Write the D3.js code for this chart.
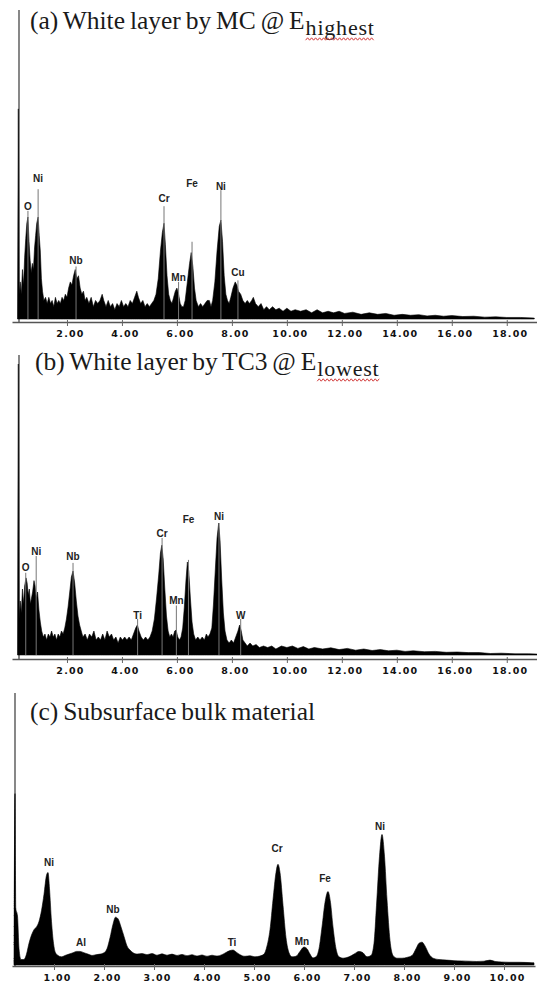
<!DOCTYPE html>
<html>
<head>
<meta charset="utf-8">
<script src="https://cdn.jsdelivr.net/npm/d3@7"></script>
<style>
  body { margin: 0; background: #fff; }
  svg { display: block; }
</style>
</head>
<body>
<div id="chart"></div>
<script>
// EDS spectra, pairs of [energy keV, counts as % of the axis height]
let specA = [
  [0.20,0],[0.23,68],[0.26,8],[0.30,12],[0.34,8],[0.38,16],[0.42,11],[0.46,20],[0.50,26],[0.54,31],[0.58,33],[0.62,25],
  [0.66,19],[0.70,15],[0.74,18],[0.78,16],[0.82,23],[0.86,27],[0.90,31],[0.95,33],[0.99,27],[1.03,22],[1.07,13],[1.11,9],
  [1.16,6],[1.22,7],[1.28,5],[1.34,7],[1.40,5],[1.46,6],[1.52,4],[1.58,7],[1.64,5],[1.70,6],[1.76,5],[1.82,7],[1.88,6],
  [1.94,8],[2.00,7],[2.06,10],[2.12,12],[2.18,11],[2.24,14],[2.30,16],[2.36,13],[2.42,14],[2.48,10],[2.54,8],[2.60,9],
  [2.66,6],[2.72,7],[2.80,5],[2.88,7],[2.96,4],[3.04,6],[3.12,5],[3.20,6],[3.28,8],[3.34,6],[3.42,4],[3.50,6],[3.58,4],
  [3.66,5],[3.74,3],[3.82,5],[3.90,4],[3.98,6],[4.06,4],[4.14,5],[4.22,4],[4.30,6],[4.38,5],[4.46,7],[4.54,9],[4.60,7],
  [4.68,5],[4.76,6],[4.84,4],[4.92,5],[5.00,4],[5.08,5],[5.16,6],[5.24,8],[5.32,13],[5.40,22],[5.47,28],[5.53,31],[5.58,24],
  [5.64,14],[5.70,8],[5.76,6],[5.82,5],[5.88,7],[5.94,9],[6.00,10],[6.06,8],[6.12,5],[6.18,4],[6.24,4],[6.30,6],[6.38,12],
  [6.46,18],[6.52,21.5],[6.58,17],[6.64,10],[6.70,6],[6.78,4],[6.86,5],[6.94,4],[7.02,5],[7.10,6],[7.18,6],[7.24,4],[7.30,6],
  [7.38,12],[7.46,22],[7.54,30],[7.60,32],[7.66,25],[7.72,14],[7.78,8],[7.84,6],[7.90,5],[7.96,7],[8.04,10],[8.12,12],
  [8.18,11],[8.24,9],[8.32,8],[8.40,6],[8.48,5],[8.56,6],[8.64,5],[8.72,6],[8.78,7],[8.86,5],[8.96,4],[9.06,5],[9.16,3],
  [9.26,4],[9.36,3],[9.48,4],[9.60,3],[9.72,3.5],[9.86,2.5],[10.0,3.5],[10.15,2.5],[10.3,3],[10.5,2.5],[10.7,3],[10.9,2],
  [11.1,3],[11.3,2],[11.5,2.5],[11.7,2],[11.9,2.5],[12.1,1.8],[12.4,2.2],[12.7,1.5],[13.0,2],[13.3,1.5],[13.6,1.8],
  [13.9,1.2],[14.2,1.5],[14.5,1.2],[14.8,1.4],[15.1,1],[15.4,1.2],[15.7,0.9],[16.0,1.1],[16.4,0.8],[16.8,0.9],[17.2,0.6],
  [17.6,0.7],[18.0,0.5],[18.5,0.5],[19.0,0.3]
];

let specB = [
  [0.20,0],[0.23,97],[0.26,12],[0.30,18],[0.34,14],[0.38,22],[0.42,17],[0.46,23],[0.51,25.7],[0.55,24],[0.59,20],[0.63,22],
  [0.67,17],[0.71,19],[0.75,21],[0.80,24.8],[0.84,23],[0.88,19],[0.93,21],[0.98,15],[1.03,11],[1.08,8],[1.14,6],[1.20,7],
  [1.26,5],[1.32,7],[1.38,6],[1.44,8],[1.50,6],[1.56,7],[1.62,5],[1.68,7],[1.74,6],[1.80,8],[1.86,7],[1.92,9],[1.98,12],
  [2.04,16],[2.10,21],[2.16,26],[2.22,28],[2.28,24],[2.34,18],[2.40,13],[2.46,10],[2.52,8],[2.58,6],[2.66,7],[2.74,5],
  [2.82,7],[2.90,6],[2.98,8],[3.06,5],[3.14,6],[3.22,5],[3.30,7],[3.38,5],[3.46,8],[3.54,6],[3.62,7],[3.70,5],[3.78,6],
  [3.86,4],[3.94,6],[4.02,5],[4.10,6],[4.18,5],[4.26,6],[4.34,5],[4.42,7],[4.50,9],[4.56,10],[4.62,8],[4.70,6],[4.78,5],
  [4.86,6],[4.94,5],[5.02,6],[5.10,8],[5.18,12],[5.26,19],[5.34,27],[5.40,34],[5.45,36.6],[5.50,32],[5.56,22],[5.62,13],
  [5.68,8],[5.74,6],[5.80,7],[5.86,6],[5.92,8],[5.97,8.3],[6.03,6],[6.09,5],[6.15,6],[6.21,9],[6.27,16],[6.33,25],[6.38,31],
  [6.43,28],[6.49,19],[6.55,11],[6.61,7],[6.68,5],[6.76,6],[6.84,5],[6.92,6],[7.00,5],[7.07,7],[7.13,6],[7.20,7],[7.27,9],
  [7.33,17],[7.40,29],[7.46,39],[7.52,44],[7.57,38],[7.63,25],[7.69,14],[7.75,8],[7.82,5],[7.90,4],[7.98,5],[8.06,4],
  [8.14,6],[8.22,8],[8.28,10],[8.34,8],[8.40,5],[8.48,4],[8.56,3],[8.66,4],[8.76,3],[8.88,3.5],[9.00,2.5],[9.15,3],[9.30,2.5],
  [9.45,3],[9.60,2],[9.80,3],[10.0,2.5],[10.2,3],[10.4,2.2],[10.6,2.8],[10.8,2],[11.0,2.5],[11.3,2],[11.6,2.4],[11.9,1.8],
  [12.2,2.2],[12.5,1.6],[12.8,2],[13.1,1.5],[13.4,1.8],[13.7,1.4],[14.0,1.6],[14.3,1.2],[14.6,1.4],[15.0,1.1],[15.4,1.2],
  [15.8,0.9],[16.2,1],[16.6,0.8],[17.0,0.8],[17.4,0.5],[17.8,0.6],[18.3,0.4],[18.8,0.4],[19.1,0.3]
];

let specC = [
  [0.20,0],[0.22,63],[0.235,21],[0.27,18],[0.30,6],[0.34,2],[0.40,2],[0.45,4],[0.50,8],[0.55,11],[0.60,13],[0.65,14],
  [0.70,16],[0.75,20],[0.80,26],[0.85,33],[0.88,34],[0.91,28],[0.95,16],[0.99,8],[1.03,4.5],[1.08,3.5],[1.15,3],[1.22,3.5],
  [1.30,4],[1.38,4.5],[1.45,5],[1.52,5],[1.60,4.5],[1.68,4],[1.76,3.5],[1.84,3.8],[1.92,4],[2.00,4.5],[2.06,6],[2.12,10],
  [2.18,15],[2.23,17.6],[2.28,17],[2.34,14],[2.40,10.5],[2.46,7],[2.52,5.5],[2.58,4.5],[2.66,4],[2.76,4.2],[2.86,3.8],
  [2.96,4.2],[3.06,3.6],[3.16,4.1],[3.26,3.6],[3.36,4],[3.46,3.5],[3.56,3.9],[3.66,3.4],[3.76,3.8],[3.86,3.3],[3.96,3.7],
  [4.06,3.2],[4.16,3.6],[4.26,3.3],[4.36,3.8],[4.44,4.6],[4.52,5.3],[4.58,5.5],[4.64,4.8],[4.72,3.8],[4.82,3.2],[4.92,3.4],
  [5.02,3],[5.12,3.3],[5.20,4],[5.26,7],[5.32,13],[5.38,24],[5.44,34],[5.48,37],[5.52,34],[5.58,22],[5.64,10],[5.70,4.5],
  [5.76,3],[5.84,3.2],[5.92,5],[6.00,6.6],[6.06,6],[6.12,4],[6.18,2.6],[6.24,3],[6.30,6],[6.36,14],[6.42,23],[6.48,27],
  [6.53,23],[6.58,14],[6.64,6],[6.70,3],[6.78,2.5],[6.90,3],[7.00,4],[7.10,5],[7.18,4.5],[7.26,3],[7.34,3.5],[7.40,8],
  [7.45,22],[7.51,40],[7.56,48],[7.61,40],[7.66,24],[7.72,9],[7.78,3.5],[7.86,2.5],[7.96,2.5],[8.06,2.8],[8.16,3.5],
  [8.24,6],[8.30,8],[8.36,8.4],[8.42,7],[8.50,4],[8.58,2.5],[8.70,2],[8.85,1.8],[9.00,1.6],[9.15,1.5],[9.30,1.4],[9.45,1.3],
  [9.60,1.4],[9.72,1.8],[9.82,1.3],[9.95,1.1],[10.1,1],[10.3,1],[10.5,0.9],[10.6,0.8]
];

// peak labels: element, energy, label level, top of the marker line (null = no line)
let elemA = ["O", "Ni", "Nb", "Cr", "Mn", "Fe", "Ni", "Cu"];
let elemKeVA = [0.58, 0.95, 2.33, 5.53, 6.06, 6.55, 7.60, 8.22];
let labelLevelA = [36.5, 45.5, 19, 39, 13.5, 44, 43, 15.1];
let lineTopA = [35, 42, 17, 36.5, 12, 25, 41.7, 12.5];

let elemB = ["O", "Ni", "Nb", "Ti", "Cr", "Mn", "Fe", "Ni", "W"];
let elemKeVB = [0.50, 0.88, 2.22, 4.57, 5.46, 5.98, 6.42, 7.53, 8.32];
let labelLevelB = [29.4, 34.7, 33, 13.5, 40.6, 18.2, 45.5, 46.5, 13.2];
let lineTopB = [27.4, 33, 30.7, 12, 39, 16.5, 31.7, 44, 12];

let elemC = ["Ni", "Al", "Nb", "Ti", "Cr", "Mn", "Fe", "Ni"];
let elemKeVC = [0.90, 1.54, 2.18, 4.56, 5.46, 5.96, 6.42, 7.52];
let labelLevelC = [38, 8.4, 20.5, 8.4, 43, 8.8, 32, 51];
let lineTopC = [null, null, null, null, null, null, null, null];

// tick labels
let ticksAB = [2, 4, 6, 8, 10, 12, 14, 16, 18];
let ticksC = [1, 2, 3, 4, 5, 6, 7, 8, 9, 10];

// panel titles
let titleMain = ["(a) White layer by MC @ E", "(b) White layer by TC3 @ E", "(c) Subsurface bulk material"];
let titleSub = ["highest", "lowest", ""];

let svgWidth = 537;
let svgHeight = 989;

let svg = d3.select("#chart")
  .append("svg")
  .attr("width", svgWidth)
  .attr("height", svgHeight);

svg.append("rect")
  .attr("width", svgWidth)
  .attr("height", svgHeight)
  .attr("fill", "#fff");

// layout of the three panels
let panels = [
  {spec: specA, elem: elemA, keV: elemKeVA, lab: labelLevelA, top: lineTopA, ticks: ticksAB,
   domain: [0, 19.1], range: [12, 537], yTop: 10, fillBase: 319, axisY: 322, yAxisX: 19,
   titleX: 30, titleY: 29, curve: d3.curveLinear},
  {spec: specB, elem: elemB, keV: elemKeVB, lab: labelLevelB, top: lineTopB, ticks: ticksAB,
   domain: [0, 19.1], range: [12, 537], yTop: 355, fillBase: 655, axisY: 659, yAxisX: 19,
   titleX: 35, titleY: 370, curve: d3.curveLinear},
  {spec: specC, elem: elemC, keV: elemKeVC, lab: labelLevelC, top: lineTopC, ticks: ticksC,
   domain: [0.16, 10.62], range: [12, 535], yTop: 693, fillBase: 965, axisY: 966, yAxisX: 15,
   titleX: 30, titleY: 720, curve: d3.curveMonotoneX}
];

panels.forEach((p, i) => {
  let g = svg.append("g");

  let x = d3.scaleLinear().domain(p.domain).range(p.range);
  let y = d3.scaleLinear().domain([0, 100]).range([p.fillBase, p.yTop]);

  // y axis line
  g.append("line")
    .attr("x1", p.yAxisX).attr("x2", p.yAxisX)
    .attr("y1", p.yTop).attr("y2", p.axisY)
    .attr("stroke", "#6a6a6a")
    .attr("stroke-width", 1.6);

  // spectrum
  let area = d3.area()
    .x(d => x(d[0]))
    .y0(p.fillBase)
    .y1(d => y(d[1]))
    .curve(p.curve);

  g.append("path")
    .datum(p.spec)
    .attr("d", area)
    .attr("fill", "#000")
    .attr("stroke", "#000")
    .attr("stroke-width", 0.6);

  // x axis
  let xAxis = g.append("g")
    .attr("transform", `translate(0,${p.axisY})`)
    .call(d3.axisBottom(x)
      .tickValues(p.ticks)
      .tickSize(4)
      .tickSizeOuter(0)
      .tickFormat(d3.format(".2f")));

  xAxis.select(".domain")
    .attr("stroke", "#555")
    .attr("stroke-width", 1.4);
  xAxis.selectAll(".tick line")
    .attr("stroke", "#666")
    .attr("y1", -2);
  xAxis.selectAll(".tick text")
    .attr("y", 8)
    .attr("dx", 3)
    .attr("fill", "#111")
    .style("font-family", "'DejaVu Sans', sans-serif")
    .style("font-weight", "bold")
    .style("font-size", "9.5px")
    .style("letter-spacing", "1.2px");

  // peak marker lines
  g.selectAll(".mark")
    .data(p.elem.map((e, j) => ({e: e, k: p.keV[j], lab: p.lab[j], top: p.top[j]})).filter(d => d.top !== null))
    .enter()
    .append("line")
    .attr("x1", d => x(d.k)).attr("x2", d => x(d.k))
    .attr("y1", d => y(d.top)).attr("y2", p.fillBase)
    .attr("stroke", "#777")
    .attr("stroke-width", 1);

  // peak labels
  g.selectAll(".elem")
    .data(p.elem.map((e, j) => ({e: e, k: p.keV[j], lab: p.lab[j]})))
    .enter()
    .append("text")
    .attr("x", d => x(d.k))
    .attr("y", d => y(d.lab) + 4)
    .attr("text-anchor", "middle")
    .attr("fill", "#222")
    .style("font-family", "'Liberation Sans', Arial, sans-serif")
    .style("font-weight", "bold")
    .style("font-size", "10px")
    .text(d => d.e);

  // title
  let main = g.append("text")
    .attr("x", p.titleX)
    .attr("y", p.titleY)
    .attr("fill", "#1a1a1a")
    .style("font-family", "'Liberation Serif', 'Times New Roman', serif")
    .style("font-size", "25.5px")
    .style("word-spacing", "-1.5px")
    .text(titleMain[i]);

  if (titleSub[i]) {
    let subX = p.titleX + main.node().getComputedTextLength() + 1;
    let sub = g.append("text")
      .attr("x", subX)
      .attr("y", p.titleY + 6)
      .attr("fill", "#1a1a1a")
      .style("font-family", "'Liberation Serif', 'Times New Roman', serif")
      .style("font-size", "22px")
      .style("letter-spacing", "0.8px")
      .text(titleSub[i]);

    // spell-check squiggle under the subscript
    let w = sub.node().getComputedTextLength();
    let wy = p.titleY + 10;
    let pts = d3.range(0, Math.floor(w / 2) + 1).map(n => [subX + n * 2, wy + (n % 2 ? -1.2 : 1.2)]);
    g.append("path")
      .attr("d", d3.line()(pts))
      .attr("fill", "none")
      .attr("stroke", "#d23a3a")
      .attr("stroke-width", 1);
  }
});
</script>
</body>
</html>
